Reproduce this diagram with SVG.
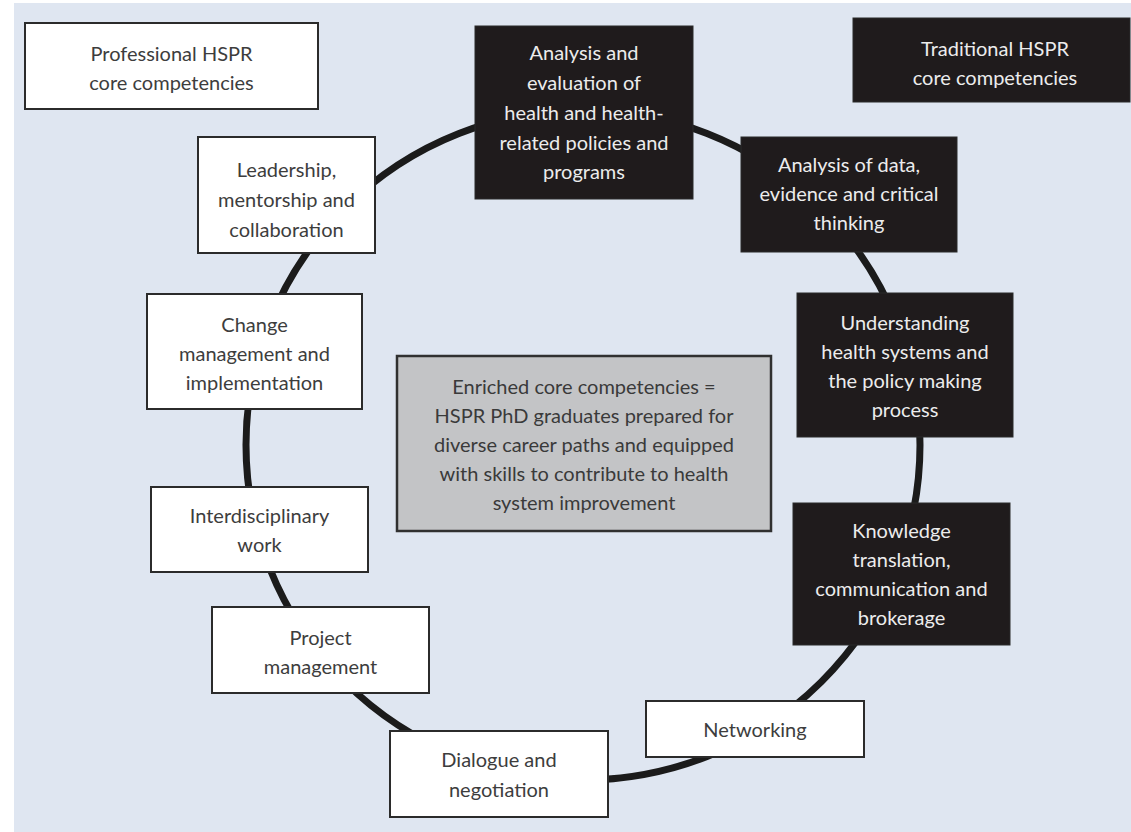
<svg xmlns="http://www.w3.org/2000/svg" width="1131" height="832" viewBox="0 0 1131 832">
<style>
.t{font-family:Lato,"Liberation Sans",sans-serif;font-size:20px;text-anchor:middle}
.wb{fill:#ffffff;stroke:#2b2b2b;stroke-width:2}
.wt{fill:#3d3d3d}
.db{fill:#1f1b1c;stroke:#2b2b2b;stroke-width:1}
.dt{fill:#ececec}
.gb{fill:#c3c4c6;stroke:#303030;stroke-width:2.5}
.gt{fill:#3a3a3a}
.ring{fill:none;stroke:#1b1b1b;stroke-width:7}
</style>
<rect x="0" y="0" width="1131" height="832" fill="#ffffff"/>
<rect x="14" y="3" width="1117" height="829" fill="#dfe6f1"/>
<g id="connectors">
<ellipse class="ring" cx="583" cy="445" rx="337" ry="335"/>
</g>
<g id="legend-professional">
<rect class="wb" x="25" y="23" width="293" height="86"/>
<text class="t wt" x="171.5" y="61">Professional HSPR</text>
<text class="t wt" x="171.5" y="90">core competencies</text>
</g>
<g id="legend-traditional">
<rect class="db" x="853" y="18" width="277" height="84"/>
<text class="t dt" x="995" y="56">Traditional HSPR</text>
<text class="t dt" x="995" y="85">core competencies</text>
</g>
<g id="analysis-evaluation">
<rect class="db" x="475" y="26" width="218" height="173"/>
<text class="t dt" x="584" y="60">Analysis and</text>
<text class="t dt" x="584" y="90">evaluation of</text>
<text class="t dt" x="584" y="120">health and health-</text>
<text class="t dt" x="584" y="150">related policies and</text>
<text class="t dt" x="584" y="179">programs</text>
</g>
<g id="analysis-data">
<rect class="db" x="741" y="137" width="216" height="115"/>
<text class="t dt" x="849" y="172">Analysis of data,</text>
<text class="t dt" x="849" y="201">evidence and critical</text>
<text class="t dt" x="849" y="230">thinking</text>
</g>
<g id="understanding">
<rect class="db" x="797" y="293" width="216" height="144"/>
<text class="t dt" x="905" y="330">Understanding</text>
<text class="t dt" x="905" y="359">health systems and</text>
<text class="t dt" x="905" y="388">the policy making</text>
<text class="t dt" x="905" y="417">process</text>
</g>
<g id="knowledge">
<rect class="db" x="793" y="503" width="217" height="142"/>
<text class="t dt" x="901.5" y="538">Knowledge</text>
<text class="t dt" x="901.5" y="567">translation,</text>
<text class="t dt" x="901.5" y="596">communication and</text>
<text class="t dt" x="901.5" y="625">brokerage</text>
</g>
<g id="networking">
<rect class="wb" x="646" y="701" width="218" height="56"/>
<text class="t wt" x="755" y="737">Networking</text>
</g>
<g id="dialogue">
<rect class="wb" x="390" y="731" width="218" height="86"/>
<text class="t wt" x="499" y="767">Dialogue and</text>
<text class="t wt" x="499" y="797">negotiation</text>
</g>
<g id="project">
<rect class="wb" x="212" y="607" width="217" height="86"/>
<text class="t wt" x="320.5" y="645">Project</text>
<text class="t wt" x="320.5" y="674">management</text>
</g>
<g id="interdisciplinary">
<rect class="wb" x="151" y="487" width="217" height="85"/>
<text class="t wt" x="259.5" y="523">Interdisciplinary</text>
<text class="t wt" x="259.5" y="552">work</text>
</g>
<g id="change">
<rect class="wb" x="147" y="294" width="215" height="115"/>
<text class="t wt" x="254.5" y="332">Change</text>
<text class="t wt" x="254.5" y="361">management and</text>
<text class="t wt" x="254.5" y="390">implementation</text>
</g>
<g id="leadership">
<rect class="wb" x="198" y="137" width="177" height="116"/>
<text class="t wt" x="286.5" y="177">Leadership,</text>
<text class="t wt" x="286.5" y="207">mentorship and</text>
<text class="t wt" x="286.5" y="237">collaboration</text>
</g>
<g id="enriched">
<rect class="gb" x="397" y="356" width="374" height="175"/>
<text class="t gt" x="584" y="394">Enriched core competencies =</text>
<text class="t gt" x="584" y="423">HSPR PhD graduates prepared for</text>
<text class="t gt" x="584" y="452">diverse career paths and equipped</text>
<text class="t gt" x="584" y="481">with skills to contribute to health</text>
<text class="t gt" x="584" y="510">system improvement</text>
</g>
</svg>
